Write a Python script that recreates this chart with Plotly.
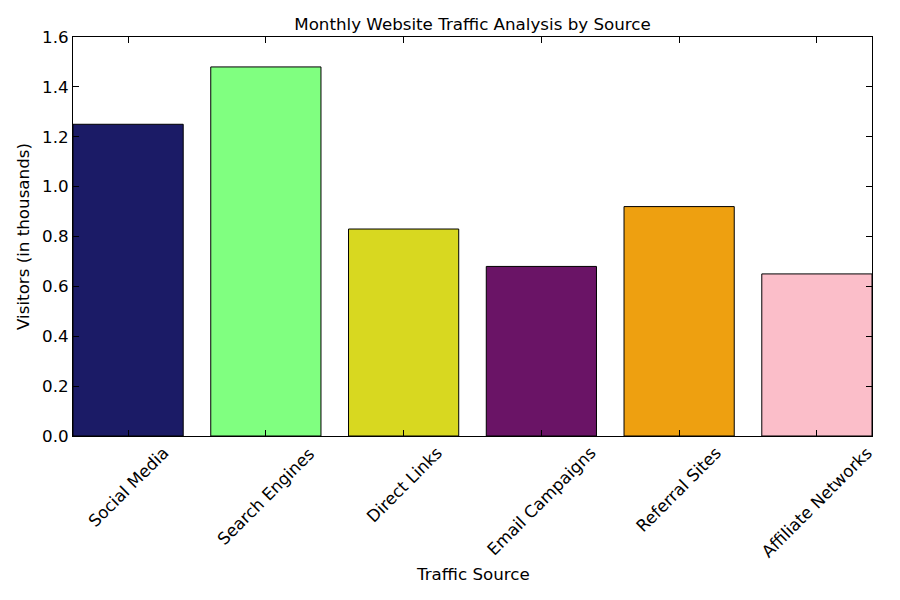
import plotly.graph_objects as go

categories = ["Social Media", "Search Engines", "Direct Links", "Email Campaigns", "Referral Sites", "Affiliate Networks"]
visitors = [1.25, 1.48, 0.83, 0.68, 0.92, 0.65]
colors = ["#1b1b66", "#80ff80", "#d8d820", "#6a1466", "#eea010", "#fbbec9"]
yticks = [0.0, 0.2, 0.4, 0.6, 0.8, 1.0, 1.2, 1.4, 1.6]

FONT = "DejaVu Sans"
FS = 16.7

fig = go.Figure()
fig.add_trace(go.Bar(
    x=categories, y=visitors, width=0.8,
    marker=dict(color=colors, line=dict(color="black", width=1)),
))

annotations = []
for c in categories:
    annotations.append(dict(
        x=c, y=0, xref="x", yref="paper", text=c, showarrow=False,
        textangle=-45, xanchor="center", yanchor="top", yshift=-4,
        font=dict(family=FONT, size=FS, color="black"),
    ))
annotations.append(dict(
    x=0.5, y=0, xref="paper", yref="paper", text="Traffic Source", showarrow=False,
    xanchor="center", yanchor="middle", yshift=-138,
    font=dict(family=FONT, size=FS, color="black"),
))

fig.update_layout(
    width=900, height=600,
    margin=dict(l=73, r=28, t=37, b=164),
    paper_bgcolor="white", plot_bgcolor="white",
    showlegend=False,
    font=dict(family=FONT, size=FS, color="black"),
    title=dict(text="Monthly Website Traffic Analysis by Source", x=0.5, xref="paper", xanchor="center",
               y=1 - 24 / 600, yanchor="middle", font=dict(family=FONT, size=FS, color="black")),
    annotations=annotations,
    xaxis=dict(
        range=[-0.4, 5.4], showticklabels=False, ticks="inside", ticklen=6, tickcolor="black",
        showline=True, linecolor="black", linewidth=1, mirror="ticks", showgrid=False, zeroline=False,
    ),
    yaxis=dict(
        range=[0, 1.6], tickvals=yticks, tickformat=".1f", ticks="inside", ticklen=6, tickcolor="black",
        showline=True, linecolor="black", linewidth=1, mirror="ticks", showgrid=False, zeroline=False,
        tickfont=dict(family=FONT, size=FS, color="black"),
        title=dict(text="Visitors (in thousands)", standoff=8, font=dict(family=FONT, size=FS, color="black")),
    ),
)

fig.write_html("out.html")
